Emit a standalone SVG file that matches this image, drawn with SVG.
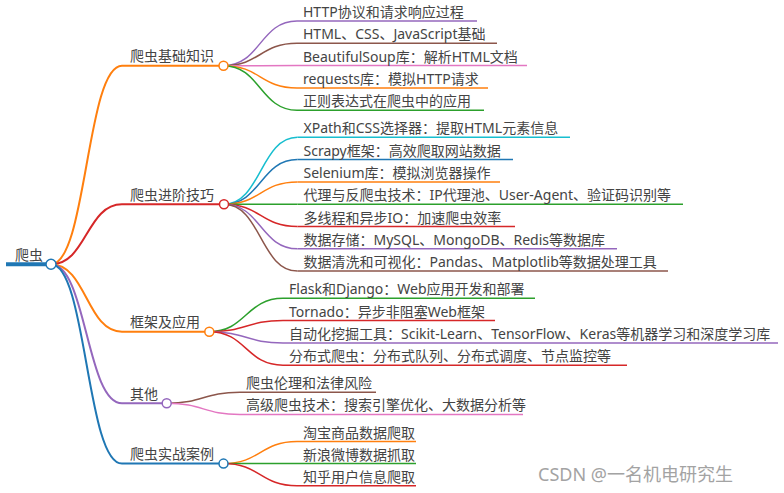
<svg xmlns="http://www.w3.org/2000/svg" width="784" height="493" viewBox="0 0 784 493">
<style>
text{font-family:"Noto Sans","Noto Sans CJK SC",sans-serif;font-size:14px;fill:#444}
.c{fill:none;stroke-width:1.5}
.b{fill:none;stroke-width:2}
.u{fill:none;stroke-width:1.5}
.n{fill:#fff;stroke-width:1.5}
.wm{font-size:18px;fill:#a3a3a3}
</style>
<rect width="784" height="493" fill="#fff"/>
<g id="connectors">
<path class="b" stroke="#ff7f0e" d="M51,264.3 C86.5,264.3 86.5,65.7 122,65.7"/>
<path class="b" stroke="#d62728" d="M51,264.3 C86.5,264.3 86.5,204.3 122,204.3"/>
<path class="b" stroke="#ff7f0e" d="M51,264.3 C86.5,264.3 86.5,331.7 122,331.7"/>
<path class="b" stroke="#9467bd" d="M51,264.3 C86.5,264.3 86.5,403.3 122,403.3"/>
<path class="b" stroke="#1f77b4" d="M51,264.3 C86.5,264.3 86.5,463.6 122,463.6"/>
<path class="c" stroke="#9467bd" d="M223.5,65.7 C260.2,65.7 260.2,21 297,21"/>
<path class="c" stroke="#8c564b" d="M223.5,65.7 C260.2,65.7 260.2,43.3 297,43.3"/>
<path class="c" stroke="#e377c2" d="M223.5,65.7 C260.2,65.7 260.2,65.6 297,65.6"/>
<path class="c" stroke="#ff7f0e" d="M223.5,65.7 C260.2,65.7 260.2,87.9 297,87.9"/>
<path class="c" stroke="#2ca02c" d="M223.5,65.7 C260.2,65.7 260.2,110.2 297,110.2"/>
<path class="c" stroke="#17becf" d="M224,204.3 C260.7,204.3 260.7,137.3 297.5,137.3"/>
<path class="c" stroke="#1f77b4" d="M224,204.3 C260.7,204.3 260.7,159.6 297.5,159.6"/>
<path class="c" stroke="#ff7f0e" d="M224,204.3 C260.7,204.3 260.7,181.9 297.5,181.9"/>
<path class="c" stroke="#2ca02c" d="M224,204.3 C260.7,204.3 260.7,204.2 297.5,204.2"/>
<path class="c" stroke="#d62728" d="M224,204.3 C260.7,204.3 260.7,226.5 297.5,226.5"/>
<path class="c" stroke="#9467bd" d="M224,204.3 C260.7,204.3 260.7,248.8 297.5,248.8"/>
<path class="c" stroke="#8c564b" d="M224,204.3 C260.7,204.3 260.7,271.1 297.5,271.1"/>
<path class="c" stroke="#2ca02c" d="M209.3,331.7 C246,331.7 246,298.3 283,298.3"/>
<path class="c" stroke="#d62728" d="M209.3,331.7 C246,331.7 246,320.6 283,320.6"/>
<path class="c" stroke="#9467bd" d="M209.3,331.7 C246,331.7 246,342.9 283,342.9"/>
<path class="c" stroke="#d62728" d="M209.3,331.7 C246,331.7 246,365.2 283,365.2"/>
<path class="c" stroke="#8c564b" d="M166.7,403.3 C203.3,403.3 203.3,392.2 240,392.2"/>
<path class="c" stroke="#e377c2" d="M166.7,403.3 C203.3,403.3 203.3,414.4 240,414.4"/>
<path class="c" stroke="#ff7f0e" d="M223.5,463.6 C260.2,463.6 260.2,441.5 297,441.5"/>
<path class="c" stroke="#2ca02c" d="M223.5,463.6 C260.2,463.6 260.2,463.6 297,463.6"/>
<path class="c" stroke="#d62728" d="M223.5,463.6 C260.2,463.6 260.2,485.8 297,485.8"/>
</g>
<g id="root">
<path fill="none" stroke="#1f77b4" stroke-width="4" d="M6,264.3 H51"/>
<circle class="n" stroke="#1f77b4" cx="51" cy="264.3" r="5"/>
<text x="15" y="260">爬虫</text>
</g>
<g id="b1">
<path class="b" stroke="#ff7f0e" d="M122,65.7 H223.5"/>
<circle class="n" stroke="#ff7f0e" cx="223.5" cy="65.7" r="4.5"/>
<text x="130" y="61.2">爬虫基础知识</text>
</g>
<g id="b1-1"><path class="u" stroke="#9467bd" d="M297,21 H477"/><text x="303" y="17">HTTP协议和请求响应过程</text></g>
<g id="b1-2"><path class="u" stroke="#8c564b" d="M297,43.3 H497"/><text x="303" y="39.3">HTML、CSS、JavaScript基础</text></g>
<g id="b1-3"><path class="u" stroke="#e377c2" d="M297,65.6 H527"/><text x="303" y="61.6">BeautifulSoup库：解析HTML文档</text></g>
<g id="b1-4"><path class="u" stroke="#ff7f0e" d="M297,87.9 H488"/><text x="303" y="83.9">requests库：模拟HTTP请求</text></g>
<g id="b1-5"><path class="u" stroke="#2ca02c" d="M297,110.2 H484"/><text x="303" y="106.2">正则表达式在爬虫中的应用</text></g>
<g id="b2">
<path class="b" stroke="#d62728" d="M122,204.3 H224"/>
<circle class="n" stroke="#d62728" cx="224" cy="204.3" r="4.5"/>
<text x="130" y="199.8">爬虫进阶技巧</text>
</g>
<g id="b2-1"><path class="u" stroke="#17becf" d="M297.5,137.3 H570"/><text x="303.5" y="133.3">XPath和CSS选择器：提取HTML元素信息</text></g>
<g id="b2-2"><path class="u" stroke="#1f77b4" d="M297.5,159.6 H513"/><text x="303.5" y="155.6">Scrapy框架：高效爬取网站数据</text></g>
<g id="b2-3"><path class="u" stroke="#ff7f0e" d="M297.5,181.9 H500"/><text x="303.5" y="177.9">Selenium库：模拟浏览器操作</text></g>
<g id="b2-4"><path class="u" stroke="#2ca02c" d="M297.5,204.2 H683"/><text x="303.5" y="200.2">代理与反爬虫技术：IP代理池、User-Agent、验证码识别等</text></g>
<g id="b2-5"><path class="u" stroke="#d62728" d="M297.5,226.5 H515"/><text x="303.5" y="222.5">多线程和异步IO：加速爬虫效率</text></g>
<g id="b2-6"><path class="u" stroke="#9467bd" d="M297.5,248.8 H617"/><text x="303.5" y="244.8">数据存储：MySQL、MongoDB、Redis等数据库</text></g>
<g id="b2-7"><path class="u" stroke="#8c564b" d="M297.5,271.1 H668"/><text x="303.5" y="267.1">数据清洗和可视化：Pandas、Matplotlib等数据处理工具</text></g>
<g id="b3">
<path class="b" stroke="#ff7f0e" d="M122,331.7 H209.3"/>
<circle class="n" stroke="#ff7f0e" cx="209.3" cy="331.7" r="4.5"/>
<text x="130" y="327.2">框架及应用</text>
</g>
<g id="b3-1"><path class="u" stroke="#2ca02c" d="M283,298.3 H535"/><text x="289" y="294.3">Flask和Django：Web应用开发和部署</text></g>
<g id="b3-2"><path class="u" stroke="#d62728" d="M283,320.6 H495"/><text x="289" y="316.6">Tornado：异步非阻塞Web框架</text></g>
<g id="b3-3"><path class="u" stroke="#9467bd" d="M283,342.9 H778"/><text x="289" y="338.9">自动化挖掘工具：Scikit-Learn、TensorFlow、Keras等机器学习和深度学习库</text></g>
<g id="b3-4"><path class="u" stroke="#d62728" d="M283,365.2 H627"/><text x="289" y="361.2">分布式爬虫：分布式队列、分布式调度、节点监控等</text></g>
<g id="b4">
<path class="b" stroke="#9467bd" d="M122,403.3 H166.7"/>
<circle class="n" stroke="#9467bd" cx="166.7" cy="403.3" r="4.5"/>
<text x="130" y="398.8">其他</text>
</g>
<g id="b4-1"><path class="u" stroke="#8c564b" d="M240,392.2 H376"/><text x="246" y="388.2">爬虫伦理和法律风险</text></g>
<g id="b4-2"><path class="u" stroke="#e377c2" d="M240,414.4 H523"/><text x="246" y="410.4">高级爬虫技术：搜索引擎优化、大数据分析等</text></g>
<g id="b5">
<path class="b" stroke="#1f77b4" d="M122,463.6 H223.5"/>
<circle class="n" stroke="#1f77b4" cx="223.5" cy="463.6" r="4.5"/>
<text x="130" y="459.1">爬虫实战案例</text>
</g>
<g id="b5-1"><path class="u" stroke="#ff7f0e" d="M297,441.5 H416"/><text x="303" y="437.5">淘宝商品数据爬取</text></g>
<g id="b5-2"><path class="u" stroke="#2ca02c" d="M297,463.6 H416"/><text x="303" y="459.6">新浪微博数据抓取</text></g>
<g id="b5-3"><path class="u" stroke="#d62728" d="M297,485.8 H416"/><text x="303" y="481.8">知乎用户信息爬取</text></g>
<text class="wm" x="538" y="481">CSDN @一名机电研究生</text>
</svg>
